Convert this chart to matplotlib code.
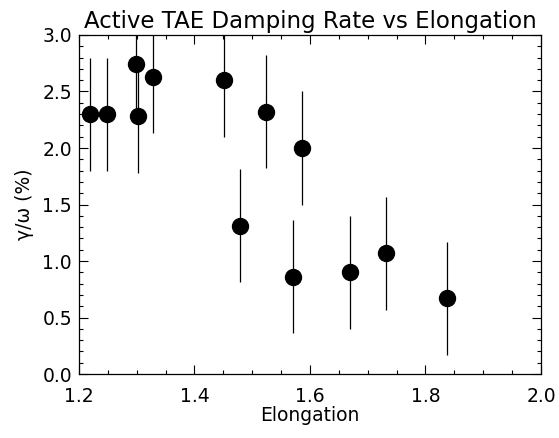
import matplotlib
matplotlib.use("Agg")
import matplotlib.pyplot as plt
from matplotlib.ticker import MultipleLocator

# active TAE damping rate against plasma elongation
elongation = [1.219, 1.248, 1.298, 1.302, 1.329, 1.451, 1.479, 1.523,
              1.570, 1.587, 1.670, 1.732, 1.838]
gamma_omega = [2.30, 2.30, 2.74, 2.28, 2.63, 2.60, 1.31, 2.32,
               0.86, 2.00, 0.90, 1.07, 0.67]
gamma_err = [0.5] * len(elongation)

plt.rcParams['font.family'] = ['DejaVu Sans']

fig = plt.figure(figsize=(5.59, 4.38), dpi=100)
ax = fig.add_axes([0.1413, 0.1461, 0.8265, 0.774])

ax.errorbar(elongation, gamma_omega, yerr=gamma_err, fmt='o', color='black',
            ecolor='black', elinewidth=0.9, capsize=0, markersize=11.5)

ax.set_xlim(1.2, 2.0)
ax.set_ylim(0.0, 3.0)
ax.xaxis.set_major_locator(MultipleLocator(0.2))
ax.xaxis.set_minor_locator(MultipleLocator(0.05))
ax.yaxis.set_major_locator(MultipleLocator(0.5))
ax.yaxis.set_minor_locator(MultipleLocator(0.1))
ax.xaxis.set_major_formatter(plt.FuncFormatter(lambda v, p: f"{v:.1f}"))
ax.yaxis.set_major_formatter(plt.FuncFormatter(lambda v, p: f"{v:.1f}"))
ax.tick_params(which='both', direction='in', top=True, right=True,
               width=0.8, labelsize=13.5, colors='black')
ax.tick_params(which='major', length=6.5)
ax.tick_params(which='minor', length=3)
ax.tick_params(axis='x', which='major', pad=9)
ax.tick_params(axis='y', which='major', pad=5)
for s in ax.spines.values():
    s.set_linewidth(0.9)

ax.set_xlabel('Elongation', fontsize=13.5, labelpad=0)
ax.set_ylabel('γ/ω (%)', fontsize=13.5, labelpad=6)
ax.set_title('Active TAE Damping Rate vs Elongation', fontsize=16.5, pad=5)

fig.savefig('out.png', dpi=100)
